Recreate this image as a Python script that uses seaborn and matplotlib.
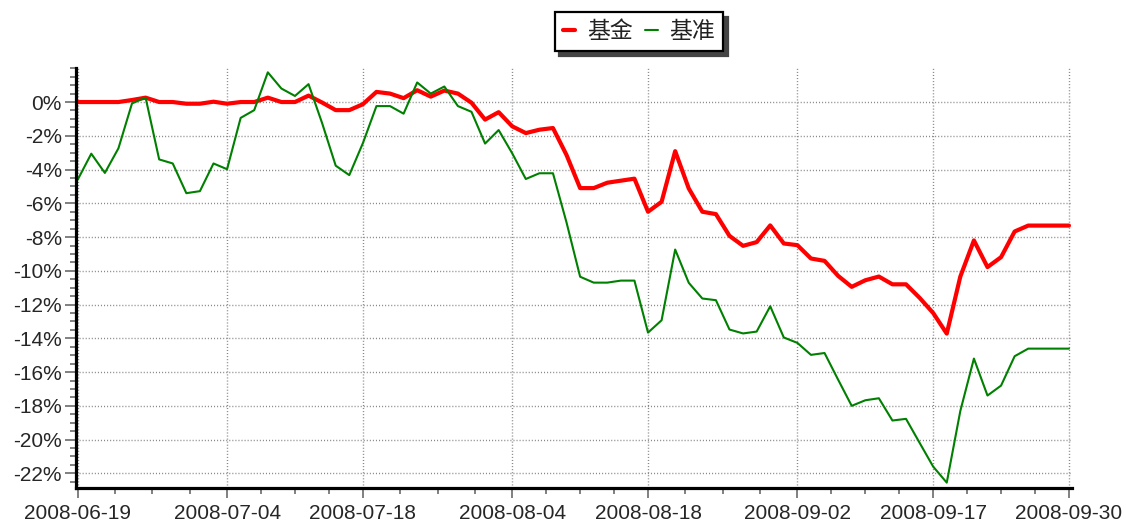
import numpy as np
import pandas as pd
import matplotlib
matplotlib.use("Agg")
import matplotlib.pyplot as plt
import seaborn as sns
from matplotlib.ticker import FixedLocator, MultipleLocator, FuncFormatter

# ---------------------------------------------------------------------
# data (cumulative return, %), one value per trading day
# ---------------------------------------------------------------------
tick_labels = ["2008-06-19", "2008-07-04", "2008-07-18", "2008-08-04",
               "2008-08-18", "2008-09-02", "2008-09-17", "2008-09-30"]
tick_index = [0, 11, 21, 32, 42, 53, 63, 73]

fund = [0.0, 0.0, 0.0, 0.0, 0.12, 0.26, 0.0, 0.0, -0.1, -0.1,
        0.02, -0.1, 0.0, 0.0, 0.26, 0.0, 0.0, 0.38, -0.03, -0.48,
        -0.48, -0.13, 0.6, 0.5, 0.23, 0.7, 0.32, 0.68, 0.5, -0.04,
        -1.04, -0.6, -1.44, -1.84, -1.64, -1.54, -3.14, -5.1, -5.1, -4.78,
        -4.66, -4.54, -6.5, -5.91, -2.91, -5.12, -6.5, -6.64, -7.93, -8.52,
        -8.3, -7.31, -8.38, -8.48, -9.27, -9.41, -10.3, -10.95, -10.56, -10.34,
        -10.8, -10.8, -11.6, -12.5, -13.72, -10.34, -8.2, -9.78, -9.19, -7.67,
        -7.32, -7.32, -7.32, -7.32]

bench = [-4.6, -3.06, -4.2, -2.74, -0.08, 0.26, -3.4, -3.64, -5.4, -5.28,
         -3.64, -3.98, -0.94, -0.48, 1.76, 0.8, 0.36, 1.06, -1.25, -3.77,
         -4.33, -2.44, -0.24, -0.24, -0.69, 1.16, 0.5, 0.92, -0.24, -0.58,
         -2.46, -1.66, -3.04, -4.56, -4.22, -4.22, -7.14, -10.35, -10.7, -10.7,
         -10.58, -10.58, -13.66, -12.93, -8.74, -10.71, -11.64, -11.74, -13.48, -13.71,
         -13.6, -12.1, -13.95, -14.27, -14.98, -14.87, -16.45, -18.0, -17.67, -17.55,
         -18.87, -18.77, -20.19, -21.6, -22.55, -18.3, -15.2, -17.39, -16.8, -15.06,
         -14.61, -14.61, -14.61, -14.61]

df = pd.DataFrame({"day": np.arange(len(fund)), "fund": fund, "bench": bench})

# ---------------------------------------------------------------------
# style
# ---------------------------------------------------------------------
sns.set_theme(style="white")
plt.rcParams["font.family"] = ["Liberation Sans", "Noto Sans CJK SC", "DejaVu Sans"]
plt.rcParams["axes.unicode_minus"] = False

fig = plt.figure(figsize=(11.26, 5.22), dpi=100)
ax = fig.add_axes([0.0672, 0.0657, 0.8848, 0.8035])

sns.lineplot(data=df, x="day", y="fund", ax=ax, color="#ff0000", linewidth=3.0, label="基金")
sns.lineplot(data=df, x="day", y="bench", ax=ax, color="#008000", linewidth=1.5, label="基准")

ax.set_xlim(-0.15, 73.22)
ax.set_ylim(-22.85, 2.0)

# x ticks: labelled dates + 3 minor ticks between each pair
ax.xaxis.set_major_locator(FixedLocator(tick_index))
ax.set_xticklabels(tick_labels)
minor_x = []
for a, b in zip(tick_index[:-1], tick_index[1:]):
    minor_x += [a + (b - a) * k / 4 for k in (1, 2, 3)]
ax.xaxis.set_minor_locator(FixedLocator(minor_x))

ax.yaxis.set_major_locator(FixedLocator(np.arange(0, -23, -2)))
ax.yaxis.set_minor_locator(MultipleLocator(0.5))
ax.yaxis.set_major_formatter(FuncFormatter(lambda v, p: f"{v:.0f}%"))

ax.set_xlabel("")
ax.set_ylabel("")

ax.grid(True, which="major", color="#888888", linestyle=(0, (0.75, 1.45)), linewidth=1.0)
ax.set_axisbelow(True)

for s in ["top", "right"]:
    ax.spines[s].set_visible(False)
for s in ["left", "bottom"]:
    ax.spines[s].set_color("black")
    ax.spines[s].set_linewidth(2.3)

ax.tick_params(axis="x", which="major", length=7, width=1.4, color="#808080",
               labelsize=15, pad=5, direction="out", bottom=True)
ax.tick_params(axis="x", which="minor", length=4, width=1.4, color="#808080", bottom=True)
ax.tick_params(axis="y", which="major", length=8, width=1.4, color="#808080",
               labelsize=15, pad=2, direction="out", left=True)
ax.tick_params(axis="y", which="minor", length=4.5, width=1.4, color="#808080", left=True)

leg = ax.legend(loc="center", bbox_to_anchor=(0.5675, 0.939), bbox_transform=fig.transFigure,
                ncol=2, frameon=True, fancybox=False,
                shadow={"ox": 3.2, "oy": -3.2, "color": "#444444", "alpha": 1},
                prop={"family": ["Noto Sans CJK SC"], "size": 16.5},
                handlelength=0.55, handletextpad=0.5, columnspacing=0.55,
                borderpad=0.35, borderaxespad=0)
leg.get_frame().set_edgecolor("black")
leg.get_frame().set_linewidth(1.6)
leg.get_frame().set_facecolor("white")
for t in leg.get_texts():
    t.set_color("#222222")

fig.savefig("out.png", dpi=100)
